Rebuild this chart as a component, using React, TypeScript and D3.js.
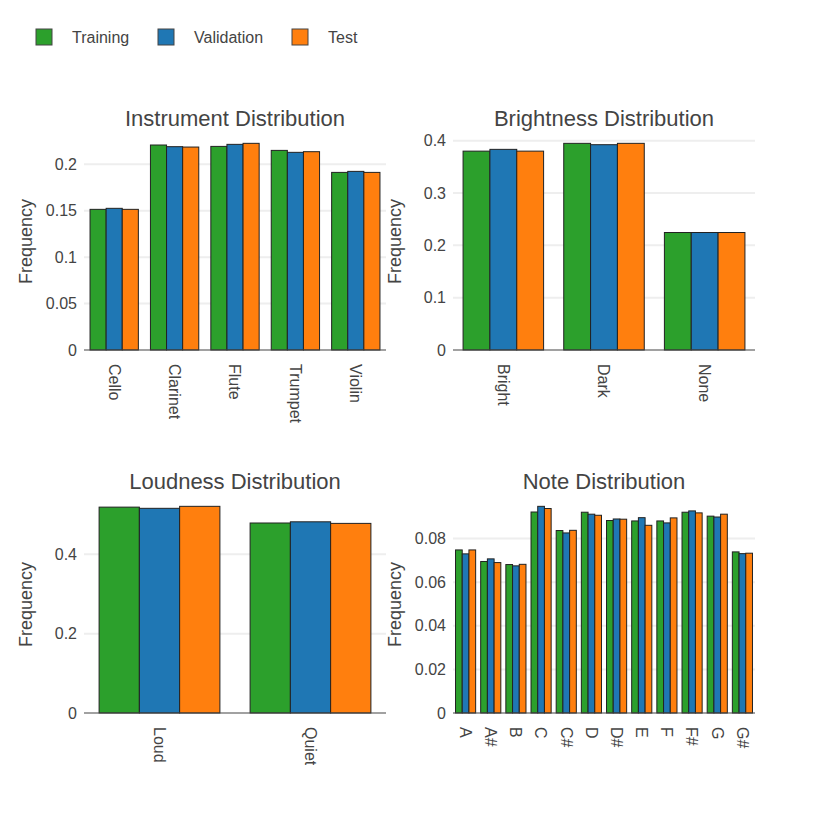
import { scaleBand, scaleLinear, max } from "d3";

const seriesNames = ["Training", "Validation", "Test"];
const seriesColors = ["#2ca02c", "#1f77b4", "#ff7f0e"];

const instruments = ["Cello", "Clarinet", "Flute", "Trumpet", "Violin"];
const instrumentTrain = [0.1515, 0.2208, 0.2193, 0.215, 0.1913];
const instrumentVal = [0.1526, 0.219, 0.2215, 0.2129, 0.1924];
const instrumentTest = [0.1515, 0.2186, 0.2226, 0.2136, 0.1913];
const instrumentTicks = [0, 0.05, 0.1, 0.15, 0.2];

const brightness = ["Bright", "Dark", "None"];
const brightnessTrain = [0.38, 0.3949, 0.2245];
const brightnessVal = [0.3834, 0.3923, 0.2245];
const brightnessTest = [0.38, 0.3949, 0.2245];
const brightnessTicks = [0, 0.1, 0.2, 0.3, 0.4];

const loudness = ["Loud", "Quiet"];
const loudnessTrain = [0.519, 0.479];
const loudnessVal = [0.516, 0.482];
const loudnessTest = [0.521, 0.478];
const loudnessTicks = [0, 0.2, 0.4];

const notes = ["A", "A#", "B", "C", "C#", "D", "D#", "E", "F", "F#", "G", "G#"];
const noteTrain = [0.0748, 0.0695, 0.0681, 0.0922, 0.0837, 0.0921, 0.0883, 0.0881, 0.0881, 0.0921, 0.0903, 0.0739];
const noteVal = [0.073, 0.0707, 0.0675, 0.0948, 0.0826, 0.0912, 0.089, 0.0896, 0.0872, 0.0927, 0.0899, 0.0731];
const noteTest = [0.0748, 0.069, 0.0682, 0.0938, 0.0838, 0.0907, 0.0889, 0.0861, 0.0895, 0.0918, 0.0912, 0.0733];
const noteTicks = [0, 0.02, 0.04, 0.06, 0.08];

const font = "'Liberation Sans', Arial, sans-serif";
const textColor = "#444";

type PanelProps = {
  title: string;
  cats: string[];
  series: number[][];
  ticks: number[];
  left: number;
  right: number;
  top: number;
  bottom: number;
};

function Panel({ title, cats, series, ticks, left, right, top, bottom }: PanelProps) {
  const ymax = (max(series.flat()) ?? 1) * 1.05;
  const y = scaleLinear().domain([0, ymax]).range([bottom, top]);
  const x = scaleBand().domain(cats).range([left, right]).paddingInner(0.2).paddingOuter(0.1);
  const inner = scaleBand<number>().domain(series.map((_, i) => i)).range([0, x.bandwidth()]);
  return (
    <g>
      <text x={(left + right) / 2} y={top - 7} textAnchor="middle" fontSize={22} fill={textColor}>
        {title}
      </text>
      {ticks.map((t) => (
        <g key={t}>
          {t > 0 && <line x1={left} x2={right} y1={y(t)} y2={y(t)} stroke="#eee" strokeWidth={2} />}
          <text x={left - 7} y={y(t)} dy="0.35em" textAnchor="end" fontSize={16} fill={textColor}>
            {String(t)}
          </text>
        </g>
      ))}
      {series.map((vals, si) =>
        vals.map((v, ci) => (
          <rect
            key={`${si}-${ci}`}
            x={(x(cats[ci]) ?? 0) + (inner(si) ?? 0)}
            y={y(v)}
            width={inner.bandwidth()}
            height={bottom - y(v)}
            fill={seriesColors[si]}
            stroke="#222"
            strokeWidth={1}
          />
        ))
      )}
      <line x1={left} x2={right} y1={bottom} y2={bottom} stroke="#444" strokeWidth={1.2} />
      {cats.map((c) => {
        const cx = (x(c) ?? 0) + x.bandwidth() / 2;
        return (
          <text
            key={c}
            transform={`translate(${cx},${bottom + 14}) rotate(90)`}
            dy="0.35em"
            fontSize={16}
            fill={textColor}
          >
            {c}
          </text>
        );
      })}
      <text
        transform={`translate(${left - 58},${(top + bottom) / 2}) rotate(-90)`}
        dy="0.35em"
        textAnchor="middle"
        fontSize={18}
        fill={textColor}
      >
        Frequency
      </text>
    </g>
  );
}

export default function App() {
  const legendX = [36, 158, 292];
  return (
    <svg
      width={830}
      height={830}
      style={{ position: "absolute", left: 0, top: 0, fontFamily: font, background: "#fff" }}
    >
      {seriesNames.map((n, i) => (
        <g key={n}>
          <rect x={legendX[i]} y={29} width={16} height={16} fill={seriesColors[i]} stroke="#444" strokeWidth={1} />
          <text x={legendX[i] + 36} y={43} fontSize={16} fill={textColor}>
            {n}
          </text>
        </g>
      ))}
      <Panel
        title="Instrument Distribution"
        cats={instruments}
        series={[instrumentTrain, instrumentVal, instrumentTest]}
        ticks={instrumentTicks}
        left={84}
        right={386}
        top={133}
        bottom={350}
      />
      <Panel
        title="Brightness Distribution"
        cats={brightness}
        series={[brightnessTrain, brightnessVal, brightnessTest]}
        ticks={brightnessTicks}
        left={453}
        right={755}
        top={133}
        bottom={350}
      />
      <Panel
        title="Loudness Distribution"
        cats={loudness}
        series={[loudnessTrain, loudnessVal, loudnessTest]}
        ticks={loudnessTicks}
        left={84}
        right={386}
        top={496}
        bottom={713}
      />
      <Panel
        title="Note Distribution"
        cats={notes}
        series={[noteTrain, noteVal, noteTest]}
        ticks={noteTicks}
        left={453}
        right={755}
        top={496}
        bottom={713}
      />
    </svg>
  );
}
